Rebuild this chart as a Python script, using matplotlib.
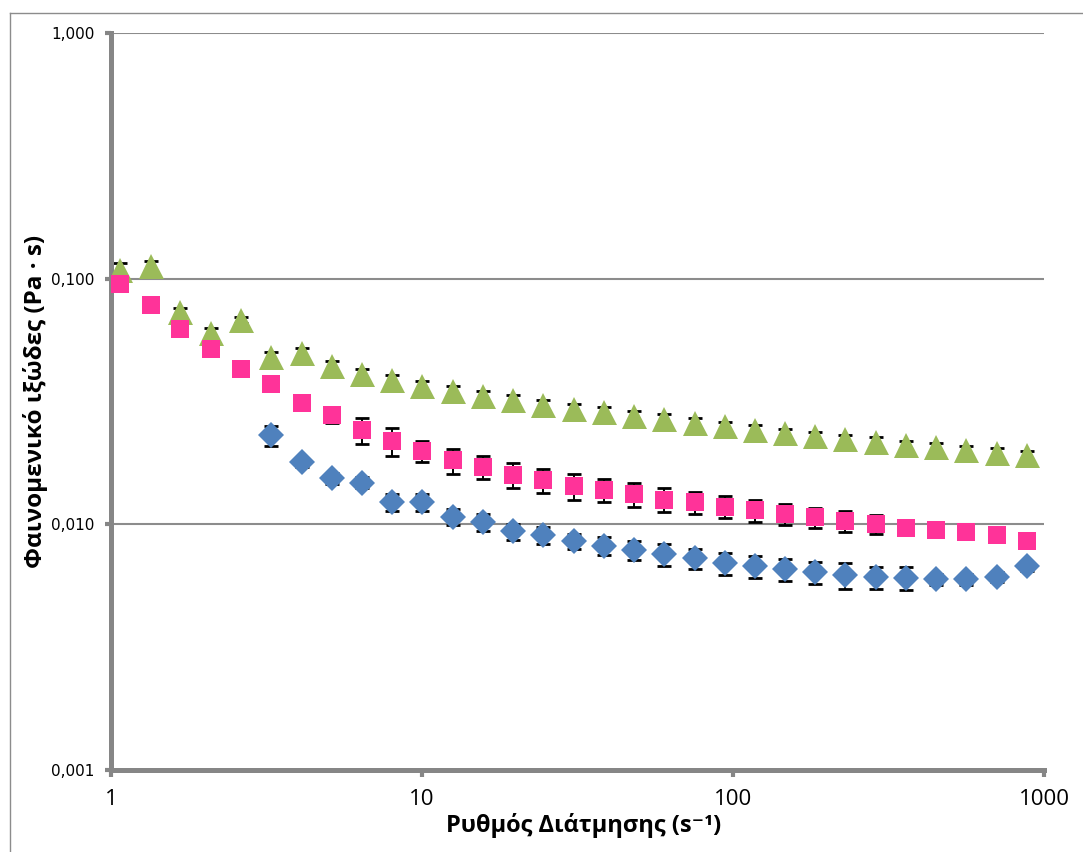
import numpy as np
import matplotlib
matplotlib.use("Agg")
import matplotlib.pyplot as plt
from matplotlib.lines import Line2D

# -------------------------------------------------------------
# DATA
# -------------------------------------------------------------
shear_rate = [1.07, 1.34, 1.67, 2.09, 2.62, 3.28, 4.10, 5.12, 6.41, 8.02,
              10.0, 12.6, 15.7, 19.6, 24.5, 30.8, 38.4, 48.0, 60.1, 75.2,
              94.0, 118, 147, 184, 230, 288, 360, 451, 563, 704, 881]

nan = float("nan")
visc_blue = [nan, nan, nan, nan, nan, 0.0230, 0.0179, 0.0154, 0.0148, 0.0123,
             0.0123, 0.0107, 0.0102, 0.00936, 0.00901, 0.00853, 0.0082, 0.00783, 0.00755, 0.00727,
             0.00694, 0.00675, 0.00656, 0.00637, 0.0062, 0.00608, 0.00604, 0.00598, 0.00598, 0.0061,
             0.00675]
err_blue = [nan, nan, nan, nan, nan, 0.0022, 0.0008, 0.0008, 0.0008, 0.0010,
            0.0010, 0.0008, 0.0008, 0.0007, 0.0007, 0.0006, 0.00068, 0.00069, 0.0008, 0.0007,
            0.0007, 0.0007, 0.00066, 0.00066, 0.00075, 0.0006, 0.00066, 0.0003, 0.0003, 0.0003,
            0.0003]

visc_pink = [0.0954, 0.0783, 0.0625, 0.0518, 0.0429, 0.0373, 0.0312, 0.0279, 0.0242, 0.0218,
             0.0199, 0.0182, 0.0171, 0.0159, 0.0151, 0.0143, 0.0138, 0.0133, 0.0126, 0.0123,
             0.0118, 0.0114, 0.0110, 0.0107, 0.0103, 0.0100, 0.0097, 0.00946, 0.00928, 0.00901,
             0.00853]
err_pink = [0.002, 0.002, 0.002, 0.002, 0.001, 0.002, 0.002, 0.002, 0.0030, 0.0029,
            0.0019, 0.0021, 0.0018, 0.0019, 0.0017, 0.0017, 0.0015, 0.0015, 0.0014, 0.0013,
            0.0012, 0.0012, 0.0011, 0.0010, 0.0010, 0.0009, 0.0006, 0.0005, 0.0004, 0.0003,
            0.0002]

visc_green = [0.1088, 0.1123, 0.0733, 0.0602, 0.0678, 0.0480, 0.0500, 0.0442, 0.0409, 0.0387,
              0.0366, 0.0349, 0.0333, 0.0321, 0.0306, 0.0295, 0.0287, 0.0276, 0.0268, 0.0258,
              0.0251, 0.0242, 0.0235, 0.0228, 0.0222, 0.0216, 0.0210, 0.0206, 0.0200, 0.0195,
              0.0191]
err_green = [0.007, 0.006, 0.003, 0.003, 0.002, 0.0022, 0.0023, 0.0020, 0.0019, 0.0018,
             0.0017, 0.0016, 0.0015, 0.0015, 0.0014, 0.0013, 0.0013, 0.0012, 0.0012, 0.0012,
             0.0011, 0.0011, 0.0010, 0.0010, 0.0010, 0.0010, 0.0009, 0.0009, 0.0009, 0.0009,
             0.0008]

y_ticks = [0.001, 0.01, 0.1, 1.0]
y_tick_labels = ["0,001", "0,010", "0,100", "1,000"]
x_ticks = [1, 10, 100, 1000]
x_tick_labels = ["1", "10", "100", "1000"]

x_label = "Ρυθμός Διάτμησης (s⁻¹)"
y_label = "Φαινομενικό ιξώδες (Pa · s)"

# -------------------------------------------------------------
# STYLE
# -------------------------------------------------------------
plt.rcParams['font.family'] = ['Open Sans', 'DejaVu Sans']
axis_grey = "#868686"

series = [
    (visc_green, err_green, "^", 18, "#9BBB59"),
    (visc_pink, err_pink, "s", 13.5, "#FF3399"),
    (visc_blue, err_blue, "D", 13, "#4F81BD"),
]

fig = plt.figure(figsize=(10.83, 8.52), dpi=100)
ax = fig.add_axes([111 / 1083, 1 - 770 / 852, (1044 - 111) / 1083, (770 - 33) / 852])

for vals, errs, mk, ms, col in series:
    ax.errorbar(shear_rate, vals, yerr=errs, fmt="none", ecolor="black",
                elinewidth=1.4, capsize=4.7, capthick=2.0, zorder=2)
for vals, errs, mk, ms, col in series:
    ax.plot(shear_rate, vals, linestyle="none", marker=mk, markersize=ms,
            color=col, markeredgewidth=0, zorder=3)

ax.set_xscale("log")
ax.set_yscale("log")
ax.set_xlim(1, 1000)
ax.set_ylim(0.001, 1.0)

ax.set_xticks(x_ticks)
ax.set_xticklabels(x_tick_labels, fontsize=16)
ax.set_yticks(y_ticks)
ax.set_yticklabels(y_tick_labels, fontsize=11, family=['DejaVu Sans'])
ax.minorticks_off()

ax.tick_params(axis="x", direction="out", length=5, width=3, color=axis_grey, pad=9)
ax.tick_params(axis="y", direction="out", length=4, width=3, color=axis_grey, pad=8)

ax.grid(axis="y", which="major", color="#8c8c8c", linewidth=1.5)
ax.set_axisbelow(True)

for side in ["top", "right"]:
    ax.spines[side].set_visible(False)
for side in ["left", "bottom"]:
    ax.spines[side].set_color(axis_grey)
    ax.spines[side].set_linewidth(3.6)

ax.set_xlabel(x_label, fontsize=17, fontweight="bold")
ax.set_ylabel(y_label, fontsize=17.5, fontweight="bold")
ax.xaxis.set_label_coords(0.507, -0.058)
ax.yaxis.set_label_coords(-0.0675, 0.50)

# chart area border (top and left edges visible in the reference)
fig.add_artist(Line2D([10 / 1083, 10 / 1083], [0, 1 - 13 / 852],
                      transform=fig.transFigure, color="#8c8c8c", linewidth=1))
fig.add_artist(Line2D([10 / 1083, 1], [1 - 13 / 852, 1 - 13 / 852],
                      transform=fig.transFigure, color="#8c8c8c", linewidth=1))

fig.savefig("out.png", dpi=100)
